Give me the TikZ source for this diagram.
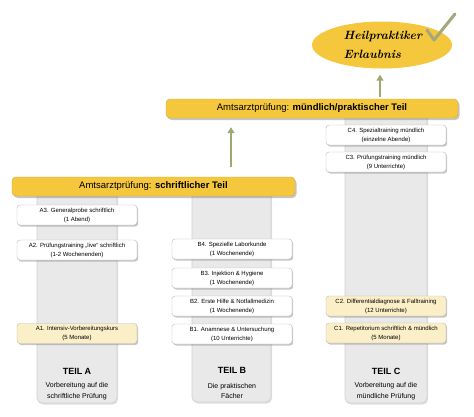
\documentclass[tikz,border=0pt]{standalone}
\usepackage{fontspec}
\setmainfont{Liberation Sans}
\newfontfamily\handfont{Latin Modern Roman}
\usetikzlibrary{shadows,arrows.meta,shapes.geometric}
\definecolor{gold}{HTML}{F5C73C}
\definecolor{paleyellow}{HTML}{FBEFC8}
\definecolor{colgray}{HTML}{E9E9E9}
\definecolor{colborder}{HTML}{D2D2D2}
\definecolor{arrowgreen}{HTML}{9BAA6E}
\definecolor{checkgreen}{HTML}{A2A77C}
\tikzset{
  column/.style={fill=colgray, draw=colborder, line width=0.8pt, rounded corners=5pt,
    drop shadow={opacity=0.25, shadow xshift=1pt, shadow yshift=-1.5pt}},
  box/.style={draw=gray!55, fill=white, rounded corners=3pt, minimum width=120pt,
    minimum height=20pt, inner sep=1pt, align=center, font=\fontsize{6}{9}\selectfont,
    drop shadow={opacity=0.45, shadow xshift=1.2pt, shadow yshift=-1.5pt}},
  ybox/.style={box, fill=paleyellow},
  bar/.style={fill=gold, draw=gold!85!black, line width=0.4pt, rounded corners=4pt,
    minimum height=19pt, inner sep=0pt, font=\fontsize{9.5}{11}\selectfont,
    drop shadow={opacity=0.45, shadow xshift=1.5pt, shadow yshift=-2pt}},
  teil/.style={font=\bfseries\fontsize{9}{11}\selectfont},
  desc/.style={font=\fontsize{7}{10.5}\selectfont, align=center},
  arr/.style={draw=arrowgreen, line width=1.8pt, -{Triangle[width=7pt,length=6pt]}},
}
\begin{document}
\begin{tikzpicture}[x=1pt,y=-1pt]
\useasboundingbox (0,0) rectangle (474,416);
% columns
\node[column, minimum width=80pt, minimum height=214pt, inner sep=0pt] (colA) at (77,296) {};
\node[column, minimum width=79pt, minimum height=213pt, inner sep=0pt] (colB) at (231.5,295.5) {};
\node[column, minimum width=82pt, minimum height=292pt, inner sep=0pt] (colC) at (386,257) {};
% bars
\node[bar, minimum width=283pt] (barA) at (153.5,186.5) {Amtsarztprüfung: \textbf{schriftlicher Teil}};
\node[bar, minimum width=292pt] (barB) at (312,108.5) {Amtsarztprüfung: \textbf{mündlich/praktischer Teil}};
% ellipse
\node[ellipse, fill=gold, minimum width=140pt, minimum height=47pt, inner sep=0pt] (goal) at (382,45) {};
\node[font=\handfont\itshape\bfseries\fontsize{12}{19}\selectfont, align=left, anchor=west] (goaltext) at (340,45) {Heilpraktiker\\Erlaubnis};
\draw[checkgreen, line width=3pt, line cap=round, line join=round] (427,30) -- (434,40) -- (455,14);
% arrows
\draw[arr] ([xshift=77.5pt, yshift=10pt]barA.north) -- ([xshift=-81pt, yshift=-9pt]barB.south);
\draw[arr] ([xshift=68pt, yshift=2pt]barB.north) -- ([xshift=-2pt, yshift=-6pt]goal.south);
% column A boxes
\node[box] (a3) at (77,215) {A3. Generalprobe schriftlich\\(1 Abend)};
\node[box] (a2) at (77,250) {A2. Prüfungstraining „live“ schriftlich\\(1-2 Wochenenden)};
\node[ybox] (a1) at (77,333.5) {A1. Intensiv-Vorbereitungskurs\\(5 Monate)};
% column B boxes
\node[box] (b4) at (232,249) {B4. Spezielle Laborkunde\\(1 Wochenende)};
\node[box] (b3) at (232,278) {B3. Injektion \& Hygiene\\(1 Wochenende)};
\node[box] (b2) at (232,306) {B2. Erste Hilfe \& Notfallmedizin\\(1 Wochenende)};
\node[box] (b1) at (232,334) {B1. Anamnese \& Untersuchung\\(10 Unterrichte)};
% column C boxes
\node[box] (c4) at (386,135) {C4. Spezialtraining mündlich\\(einzelne Abende)};
\node[box] (c3) at (386,162) {C3. Prüfungstraining mündlich\\(9 Unterrichte)};
\node[ybox] (c2) at (386,306) {C2. Differentialdiagnose \& Falltraining\\(12 Unterrichte)};
\node[ybox] (c1) at (386,333) {C1. Repetitorium schriftlich \& mündlich\\(5 Monate)};
% labels
\node[teil] (ta) at (77,371) {TEIL A};
\node[desc] (da) at (77,391) {Vorbereitung auf die\\schriftliche Prüfung};
\node[teil] (tb) at (232,370) {TEIL B};
\node[desc] (db) at (232,391) {Die praktischen\\Fächer};
\node[teil] (tc) at (386,371) {TEIL C};
\node[desc] (dc) at (386,391) {Vorbereitung auf die\\mündliche Prüfung};
\end{tikzpicture}
\end{document}
